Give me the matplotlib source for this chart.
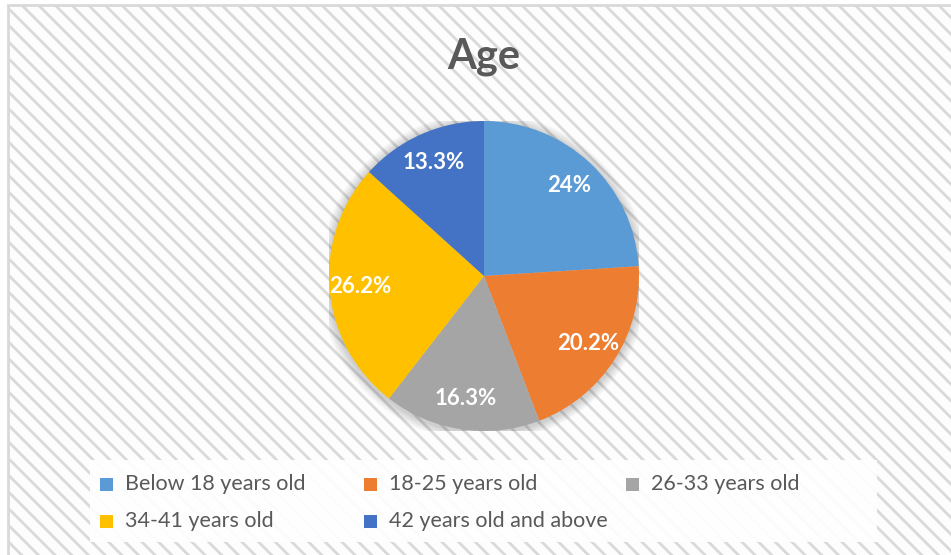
import matplotlib
matplotlib.use("Agg")
import matplotlib.pyplot as plt
from matplotlib.patches import Rectangle, Circle

# data
categories = ["Below 18 years old", "18-25 years old", "26-33 years old",
              "34-41 years old", "42 years old and above"]
shares = [24, 20.2, 16.3, 26.2, 13.3]
colors = ["#5B9BD5", "#ED7D31", "#A5A5A5", "#FFC000", "#4472C4"]

W, H = 951, 555
plt.rcParams['font.family'] = ['Lato', 'DejaVu Sans']
plt.rcParams['hatch.color'] = '#f0f0f0'
plt.rcParams['hatch.linewidth'] = 2.0

fig = plt.figure(figsize=(W/100, H/100), dpi=100)

# hatched background panel
bg = fig.add_axes([0, 0, 1, 1])
bg.set_xlim(0, W)
bg.set_ylim(H, 0)
bg.axis("off")
bg.add_patch(Rectangle((0, 0), W, H, facecolor="white", edgecolor="none"))
bg.add_patch(Rectangle((8, 5), W, H, facecolor="#fdfdfd", edgecolor="#d9d9d9",
                       linewidth=2, hatch="\\\\"))
# white legend box
bg.add_patch(Rectangle((90, 460), 787, 82, facecolor="white", edgecolor="none", alpha=0.92))

bg.text(484, 57, "Age", ha="center", va="center", fontsize=30,
        fontweight="bold", color="#595959")

# pie axes: centre (484, 276), radius 155 px
cx, cy, r = 484, 276, 155
ax = fig.add_axes([(cx - r)/W, (H - cy - r)/H, 2*r/W, 2*r/H])
# soft shadow round the pie
for k in range(8):
    ax.add_patch(Circle((0, -0.01), 1.0 + 0.008*(k+1), facecolor="#000000",
                        edgecolor="none", alpha=0.025, zorder=0))
wedges, _, autotexts = ax.pie(shares, colors=colors, startangle=90, counterclock=False,
                              autopct=lambda p: "%g%%" % round(p, 1), pctdistance=0.8,
                              wedgeprops=dict(linewidth=0, zorder=2))
for t in autotexts:
    t.set_color("white")
    t.set_fontsize(16)
    t.set_fontweight("bold")
    t.set_zorder(3)
ax.set_xlim(-1, 1)
ax.set_ylim(-1, 1)
ax.set_clip_on(False)

# legend entries, three per row like the Excel legend
legend_pos = [(100, 484), (364, 484), (626, 484), (100, 521), (364, 521)]
for (lx, ly), name, c in zip(legend_pos, categories, colors):
    bg.add_patch(Rectangle((lx, ly - 6), 13, 13, facecolor=c, edgecolor="none"))
    bg.text(lx + 25, ly, name, ha="left", va="center", fontsize=15.5, color="#595959")

fig.savefig("out.png", dpi=100)
